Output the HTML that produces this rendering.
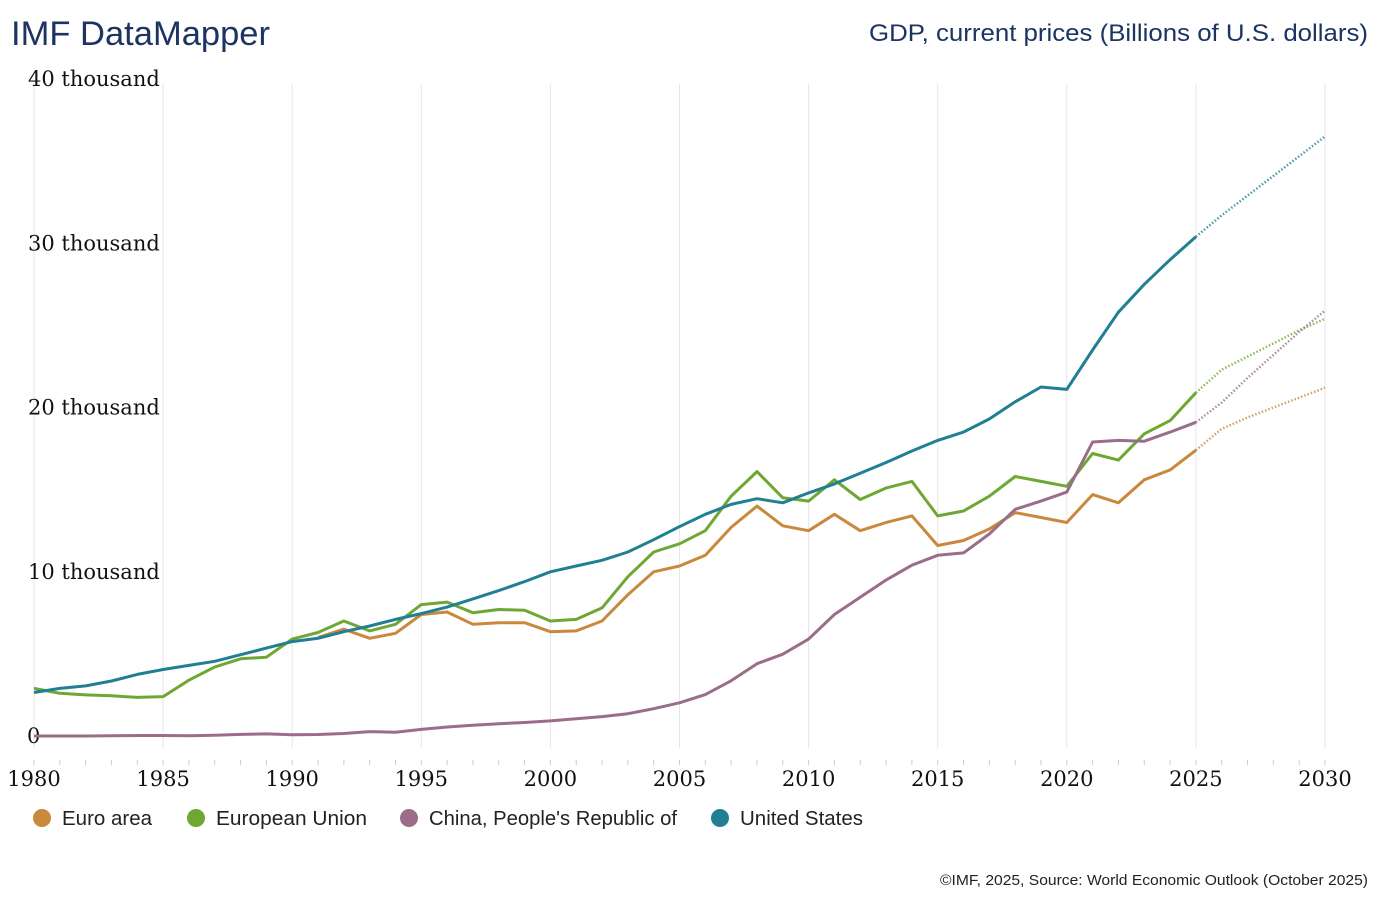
<!DOCTYPE html>
<html><head><meta charset="utf-8"><style>
body{margin:0;background:#fff;width:1380px;height:900px;overflow:hidden;font-family:"Liberation Sans",sans-serif}
</style></head><body>
<svg width="1380" height="900">
<text x="11" y="45" font-size="34" fill="#1c3461" textLength="259" lengthAdjust="spacingAndGlyphs" font-family="Liberation Sans,sans-serif">IMF DataMapper</text>
<text x="1368" y="41" font-size="24" fill="#1c3461" text-anchor="end" textLength="499" lengthAdjust="spacingAndGlyphs" font-family="Liberation Sans,sans-serif">GDP, current prices (Billions of U.S. dollars)</text>
<g id="grid"></g><g id="yt"></g><g id="xt"></g><g id="series"></g>
<g id="legend" font-size="20" fill="#222" font-family="Liberation Sans,sans-serif"></g>
<text x="1368" y="885" font-size="15" fill="#222" text-anchor="end" textLength="428" lengthAdjust="spacingAndGlyphs">©IMF, 2025, Source: World Economic Outlook (October 2025)</text>
</svg>
<script>
const years=[];for(let y=1980;y<=2030;y++)years.push(y);
const lastActual=2025;
const usVals=[2.65,2.9,3.05,3.35,3.75,4.05,4.3,4.55,4.95,5.35,5.75,5.95,6.35,6.7,7.1,7.45,7.85,8.35,8.85,9.4,10.0,10.35,10.7,11.2,11.95,12.75,13.5,14.1,14.45,14.2,14.8,15.35,16.0,16.65,17.35,18.0,18.5,19.3,20.35,21.25,21.1,23.5,25.8,27.5,29.0,30.4,31.7,32.9,34.1,35.3,36.5];
const chinaVals=[0.0,0.0,0.0,0.02,0.03,0.03,0.02,0.04,0.1,0.13,0.08,0.09,0.15,0.27,0.23,0.4,0.55,0.66,0.75,0.82,0.92,1.05,1.18,1.36,1.66,2.02,2.52,3.36,4.4,4.98,5.9,7.4,8.45,9.5,10.4,11.0,11.15,12.3,13.8,14.3,14.85,17.9,18.0,17.95,18.5,19.1,20.3,21.8,23.2,24.6,25.9];
const euroVals=[null,null,null,null,null,null,null,null,null,null,null,6.0,6.5,5.95,6.25,7.4,7.55,6.8,6.9,6.9,6.35,6.4,7.0,8.6,10.0,10.35,11.0,12.7,14.0,12.8,12.5,13.5,12.5,13.0,13.4,11.6,11.9,12.6,13.6,13.3,13.0,14.7,14.2,15.6,16.2,17.4,18.7,19.4,20.0,20.6,21.2];
const euVals=[2.9,2.6,2.5,2.45,2.35,2.4,3.4,4.2,4.7,4.8,5.9,6.3,7.0,6.4,6.8,8.0,8.15,7.5,7.7,7.65,7.0,7.1,7.8,9.7,11.2,11.7,12.5,14.6,16.1,14.5,14.3,15.6,14.4,15.1,15.5,13.4,13.7,14.6,15.8,15.5,15.2,17.2,16.8,18.4,19.2,20.9,22.3,23.1,23.9,24.7,25.4];
const yTicks=[0,10,20,30,40];
const yTickLabels=["0","10 thousand","20 thousand","30 thousand","40 thousand"];
const xLabels=[1980,1985,1990,1995,2000,2005,2010,2015,2020,2025,2030];
const series=[
 {name:"Euro area",color:"#c9883c",vals:euroVals,key:"euro-area"},
 {name:"European Union",color:"#6ea833",vals:euVals,key:"european-union"},
 {name:"China, People's Republic of",color:"#9b6d8a",vals:chinaVals,key:"china"},
 {name:"United States",color:"#217f93",vals:usVals,key:"united-states"}];
const NS="http://www.w3.org/2000/svg";
const X=y=>34+(y-1980)*(1325-34)/50;
const Y=v=>736-v*(736-79)/40;
function mk(t,a,p){const e=document.createElementNS(NS,t);for(const k in a)e.setAttribute(k,a[k]);document.getElementById(p).appendChild(e);return e;}
xLabels.forEach(y=>{const l=mk('line',{x1:X(y),x2:X(y),y1:84,y2:748,stroke:'#e6e6ea','stroke-width':1},'grid');


const t=mk('text',{x:X(y),y:786,'text-anchor':'middle','font-size':21,'font-family':'DejaVu Serif,serif',fill:'#111'},'xt');t.textContent=y;

});
years.forEach(y=>{const m=mk('line',{x1:X(y),x2:X(y),y1:760,y2:765,stroke:'#c8cbd8','stroke-width':1},'xt');

});
yTicks.forEach((v,i)=>{const t=mk('text',{x:i==0?27:28,y:Y(v)+7,'font-size':21,'font-family':'DejaVu Serif,serif',fill:'#111'},'yt');t.textContent=yTickLabels[i];

});
series.forEach(s=>{let a=[],f=[];years.forEach((y,i)=>{const v=s.vals[i];if(v==null)return;const p=X(y).toFixed(1)+','+Y(v).toFixed(1);if(y<=lastActual)a.push(p);if(y>=lastActual)f.push(p);});
const l=mk('polyline',{points:a.join(' '),fill:'none',stroke:s.color,'stroke-width':3,'stroke-linejoin':'round'},'series');


const d=mk('polyline',{points:f.join(' '),fill:'none',stroke:s.color,'stroke-width':2.5,'stroke-dasharray':'1.5,2','opacity':0.8},'series');

});
const lx=[42,196,409,720];
const lw=[90,151,248,123];
series.forEach((s,i)=>{const c=mk('circle',{cx:lx[i],cy:818,r:9,fill:s.color},'legend');


const t=mk('text',{x:lx[i]+20,y:825,textLength:lw[i],lengthAdjust:'spacingAndGlyphs'},'legend');t.textContent=s.name;

});
</script>
</body></html>
